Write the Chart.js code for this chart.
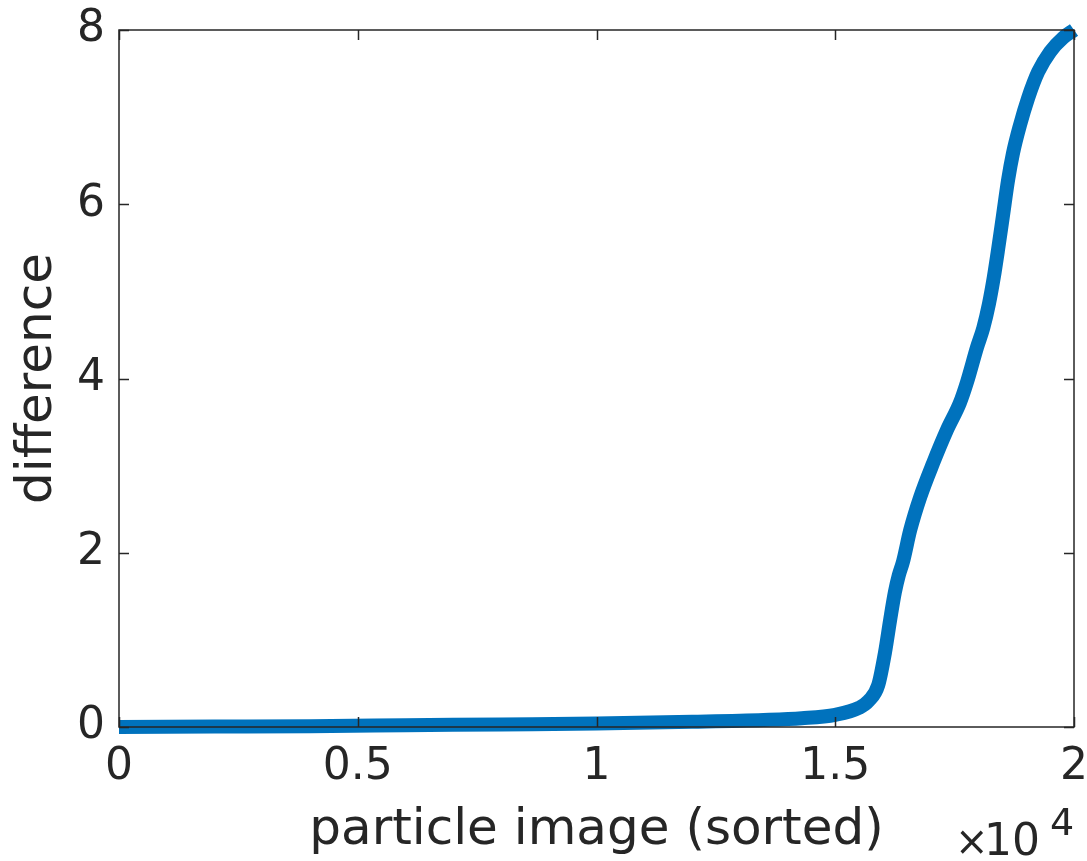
<!DOCTYPE html>
<html>
<head>
<meta charset="utf-8">
<script src="https://cdn.jsdelivr.net/npm/chart.js@4/dist/chart.umd.min.js"></script>
<style>
  html, body { margin: 0; padding: 0; background: #ffffff; }
  #wrap { width: 1087px; height: 861px; position: relative; }
</style>
</head>
<body>
<div id="wrap"><canvas id="c" width="1087" height="861"></canvas></div>
<script>
// Data (x = particle image index, y = difference)
const xValues = [0, 2000, 4000, 6000, 8000, 10000, 12000, 13500, 14300, 15000, 15500, 15700, 15900, 16040, 16150, 16250, 16330, 16420, 16570, 16780, 17050, 17340, 17610, 17760, 17970, 18100, 18220, 18320, 18410, 18510, 18620, 18720, 18870, 19040, 19250, 19500, 19770, 20000];
const yValues = [0.00, 0.005, 0.01, 0.02, 0.03, 0.04, 0.06, 0.08, 0.10, 0.14, 0.22, 0.30, 0.48, 0.85, 1.23, 1.55, 1.74, 1.90, 2.26, 2.64, 3.03, 3.41, 3.72, 3.96, 4.36, 4.58, 4.86, 5.16, 5.48, 5.86, 6.28, 6.58, 6.91, 7.22, 7.52, 7.75, 7.91, 8.00];
const xTickValues = [0, 5000, 10000, 15000, 20000];
const yTickValues = [0, 2, 4, 6, 8];
const xLabel = 'particle image (sorted)';
const yLabel = 'difference';
const xExponent = '4';

const points = xValues.map((x, i) => ({ x: x, y: yValues[i] }));
const AXIS_COLOR = '#262626';
const FONT = 'DejaVu Sans';

const boxPlugin = {
  id: 'matlabBox',
  afterDatasetsDraw(chart) {
    const { ctx, chartArea: a, scales } = chart;
    ctx.save();
    ctx.strokeStyle = AXIS_COLOR;
    ctx.lineWidth = 1.5;
    // inward ticks on all four sides
    const L = 10;
    ctx.beginPath();
    xTickValues.forEach(v => {
      const px = Math.round(scales.x.getPixelForValue(v)) + 0.5;
      ctx.moveTo(px, a.bottom); ctx.lineTo(px, a.bottom - L);
      ctx.moveTo(px, a.top); ctx.lineTo(px, a.top + L);
    });
    yTickValues.forEach(v => {
      const py = Math.round(scales.y.getPixelForValue(v)) + 0.5;
      ctx.moveTo(a.left, py); ctx.lineTo(a.left + L, py);
      ctx.moveTo(a.right, py); ctx.lineTo(a.right - L, py);
    });
    ctx.stroke();
    ctx.strokeRect(a.left, a.top, a.right - a.left, a.bottom - a.top);
    // exponent label: ×10^4
    ctx.fillStyle = AXIS_COLOR;
    ctx.textBaseline = 'alphabetic';
    ctx.textAlign = 'left';
    const baseY = 855;
    ctx.font = '40px "' + FONT + '"';
    ctx.fillText('\u00d7', 955, baseY);
    ctx.font = '44px "' + FONT + '"';
    ctx.fillText('10', 984, baseY);
    ctx.font = '38px "' + FONT + '"';
    ctx.fillText(xExponent, 1050, baseY - 20);
    ctx.restore();
  }
};

new Chart(document.getElementById('c'), {
  type: 'line',
  data: {
    datasets: [{
      data: points,
      borderColor: '#0072BD',
      backgroundColor: '#0072BD',
      borderWidth: 14,
      pointRadius: 0,
      fill: false,
      cubicInterpolationMode: 'monotone',
      borderCapStyle: 'butt',
      borderJoinStyle: 'round',
      clip: false
    }]
  },
  options: {
    responsive: false,
    animation: false,
    events: [],
    layout: { padding: { top: 30, right: 13, left: 0, bottom: 0 } },
    plugins: { legend: { display: false }, tooltip: { enabled: false } },
    scales: {
      x: {
        type: 'linear',
        min: 0, max: 20000,
        afterBuildTicks(scale) { scale.ticks = xTickValues.map(v => ({ value: v })); },
        afterFit(scale) { scale.height = 134; scale.paddingLeft = 0; scale.paddingRight = 0; },
        grid: { display: false, drawTicks: false },
        border: { display: false },
        ticks: {
          color: AXIS_COLOR,
          font: { family: FONT, size: 44 },
          padding: 14,
          maxRotation: 0,
          autoSkip: false,
          callback: v => String(v / 10000)
        },
        title: {
          display: true,
          text: xLabel,
          color: AXIS_COLOR,
          font: { family: FONT, size: 50 },
          padding: { top: 0, bottom: 0 }
        }
      },
      y: {
        type: 'linear',
        min: 0, max: 8,
        afterBuildTicks(scale) { scale.ticks = yTickValues.map(v => ({ value: v })); },
        afterFit(scale) { scale.width = 119; scale.paddingTop = 0; scale.paddingBottom = 0; },
        grid: { display: false, drawTicks: false },
        border: { display: false },
        ticks: {
          color: AXIS_COLOR,
          font: { family: FONT, size: 44 },
          padding: 14,
          autoSkip: false,
          callback: v => String(v)
        },
        title: {
          display: true,
          text: yLabel,
          color: AXIS_COLOR,
          font: { family: FONT, size: 50 },
          padding: { top: 8, bottom: 0 }
        }
      }
    }
  },
  plugins: [boxPlugin]
});
</script>
</body>
</html>
